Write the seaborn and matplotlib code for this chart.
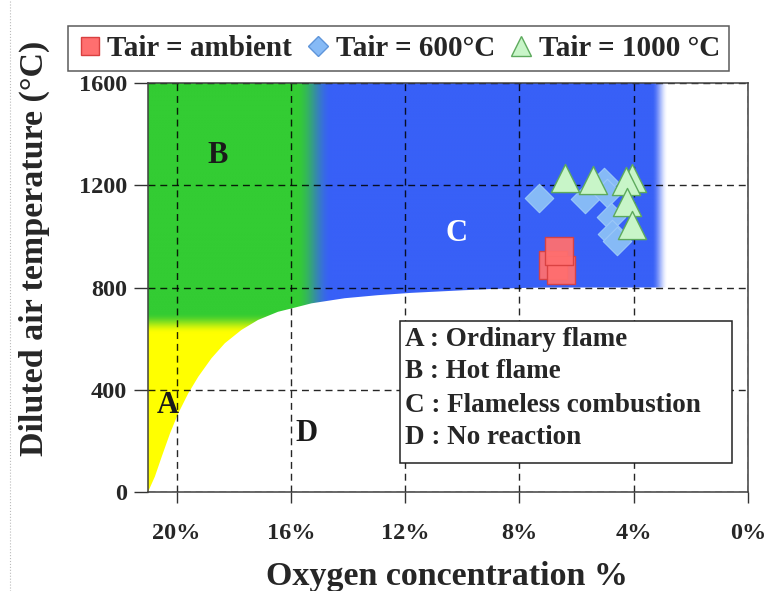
import numpy as np
import pandas as pd
import matplotlib
matplotlib.use("Agg")
import matplotlib.pyplot as plt
import seaborn as sns
from matplotlib.patches import Polygon, Rectangle
from matplotlib.lines import Line2D
from matplotlib.colors import to_rgb

# ---- data ----
# boundary between the reaction zones (A, B, C) and the no-reaction zone D
boundary_o2 = [21.0, 20.76, 20.52, 20.23, 19.94, 19.59, 19.24, 18.78, 18.31, 17.73, 17.15,
               16.45, 15.98, 15.28, 14.12, 12.95, 11.79, 10.0, 9.0, 8.0, 7.0, 2.7]
boundary_temp = [0, 60, 138, 229, 308, 386, 451, 523, 582, 634, 673,
                 705, 718, 738, 758, 770, 779, 789, 794, 798, 800, 800]

ambient_o2 = [6.82, 6.55, 6.62]
ambient_temp = [888, 868, 944]
t600_o2 = [7.3, 5.7, 5.03, 4.92, 4.8, 4.75, 4.57]
t600_temp = [1150, 1148, 1212, 1168, 1077, 1008, 980]
t1000_o2 = [6.39, 5.43, 4.05, 4.26, 4.22, 4.05]
t1000_temp = [1227, 1222, 1228, 1218, 1133, 1044]

x_ticks = [20, 16, 12, 8, 4, 0]
x_tick_labels = ["20%", "16%", "12%", "8%", "4%", "0%"]
y_ticks = [0, 400, 800, 1200, 1600]

legend_labels = ["Tair = ambient", "Tair = 600\u00b0C", "Tair = 1000 \u00b0C"]
zone_notes = ["A : Ordinary flame", "B : Hot flame", "C : Flameless combustion", "D : No reaction"]

# ---- style ----
sns.set_theme(style="ticks")
plt.rcParams["font.family"] = ["Liberation Serif", "DejaVu Serif"]
plt.rcParams["font.weight"] = "bold"

W, H = 769, 591
fig = plt.figure(figsize=(W / 100, H / 100), dpi=100)
ax = fig.add_axes([148 / W, 1 - 492 / H, (748 - 148) / W, (492 - 83) / H])

# ---- zone shading (gradient image clipped to zone polygon) ----
green = np.array(to_rgb("#33CC33"))
blue = np.array(to_rgb("#3860F7"))
yellow = np.array(to_rgb("#FFFF00"))
gx = np.linspace(0, 21, 1400)
gy = np.linspace(0, 1600, 900)
X, Y = np.meshgrid(gx, gy)


def smooth(t):
    t = np.clip(t, 0, 1)
    return t * t * (3 - 2 * t)


wb = smooth((15.8 - X) / (15.8 - 14.6))[..., None]
wy = smooth((700 - Y) / (700 - 620))[..., None]
base = green * (1 - wy) + yellow * wy
rgb = base * (1 - wb) + blue * wb
alpha = smooth((X - 2.8) / (3.35 - 2.8))[..., None]
img = np.concatenate([rgb, alpha], axis=2)
im = ax.imshow(img, extent=(0, 21, 0, 1600), origin="lower", aspect="auto",
               interpolation="bilinear", zorder=0)
verts = list(zip(boundary_o2, boundary_temp)) + [(2.7, 1600), (21.0, 1600)]
clip = Polygon(verts, closed=True, transform=ax.transData)
im.set_clip_path(clip)

# ---- data points ----
df_amb = pd.DataFrame({"o2": ambient_o2, "temp": ambient_temp})
df_600 = pd.DataFrame({"o2": t600_o2, "temp": t600_temp})
df_1000 = pd.DataFrame({"o2": t1000_o2, "temp": t1000_temp})

sns.scatterplot(data=df_amb, x="o2", y="temp", marker="s", s=420, color="#FF6F6F",
                edgecolor="#D84040", linewidth=1.0, alpha=0.95, zorder=3, legend=False, ax=ax)
sns.scatterplot(data=df_600, x="o2", y="temp", marker="D", s=210, color="#86BAF6",
                edgecolor="#9CC8F8", linewidth=0.8, zorder=3, legend=False, ax=ax)
sns.scatterplot(data=df_1000, x="o2", y="temp", marker="^", s=410, color="#C8F5C8",
                edgecolor="#5DAA5D", linewidth=1.0, zorder=4, legend=False, ax=ax)

# ---- axes ----
ax.set_xlim(21, 0)
ax.set_ylim(0, 1600)
ax.set_xticks(x_ticks)
ax.set_xticklabels(x_tick_labels)
ax.set_yticks(y_ticks)
ax.tick_params(axis="x", length=8, width=1, color="#333333", pad=14, labelsize=17.5)
ax.tick_params(axis="y", length=10, width=1, color="#333333", pad=5, labelsize=17.5)
for lab in ax.get_xticklabels() + ax.get_yticklabels():
    lab.set_fontweight("bold")
ax.grid(True, color="black", linestyle=(0, (5, 3.5)), linewidth=1.0, alpha=0.85)
for s in ax.spines.values():
    s.set_color("#404040")
    s.set_linewidth(1.1)
    s.set_zorder(5)

ax.set_xlabel("Oxygen concentration %", fontsize=24.5, fontweight="bold")
ax.set_ylabel("Diluted air temperature (\u00b0C)", fontsize=24.5, fontweight="bold")
ax.xaxis.label.set_verticalalignment("center")
ax.yaxis.label.set_verticalalignment("center")
ax.xaxis.set_label_coords((447 - 148) / 600, (492 - 576) / 409)
ax.yaxis.set_label_coords((34 - 148) / 600, (492 - 248) / 409)

# ---- zone letters ----
ax.text(18.55, 1318, "B", fontsize=22, fontweight="bold", color="#1a1a1a", ha="center", va="center", zorder=6)
ax.text(10.2, 1013, "C", fontsize=22, fontweight="bold", color="white", ha="center", va="center", zorder=6)
ax.text(20.32, 340, "A", fontsize=22, fontweight="bold", color="#1a1a1a", ha="center", va="center", zorder=6)
ax.text(15.44, 227, "D", fontsize=22, fontweight="bold", color="#1a1a1a", ha="center", va="center", zorder=6)

# ---- zone description box ----
fig.patches.append(Rectangle((400 / W, 1 - 463 / H), (732 - 400) / W, (463 - 321) / H,
                             transform=fig.transFigure, facecolor="white",
                             edgecolor="#222222", linewidth=1.1, zorder=10))
for i, note in enumerate(zone_notes):
    fig.text(405 / W, 1 - (339 + 33.0 * i) / H, note, fontsize=19.5, fontweight="bold",
             ha="left", va="center", zorder=11)

# ---- legend ----
handles = [
    Line2D([], [], linestyle="none", marker="s", markersize=13, markerfacecolor="#FF6F6F",
           markeredgecolor="#D84040"),
    Line2D([], [], linestyle="none", marker="D", markersize=10.5, markerfacecolor="#86BAF6",
           markeredgecolor="#5F95DA"),
    Line2D([], [], linestyle="none", marker="^", markersize=14, markerfacecolor="#C8F5C8",
           markeredgecolor="#5DAA5D"),
]
leg = fig.legend(handles, legend_labels, loc="upper center", bbox_to_anchor=(398.5 / W, 1 - 26 / H),
                 ncol=3, frameon=True, fancybox=False, edgecolor="#333333",
                 handletextpad=0.15, columnspacing=0.45, handlelength=0.9, borderpad=0.3,
                 borderaxespad=0, prop={"family": "Liberation Serif", "weight": "bold", "size": 21})
leg.get_frame().set_linewidth(1.1)

# faint dotted page border on the left
fig.add_artist(Line2D([10 / W, 10 / W], [0, 1], transform=fig.transFigure,
                      color="#BBBBBB", linestyle=":", linewidth=0.8))

fig.savefig("out.png", dpi=100)
